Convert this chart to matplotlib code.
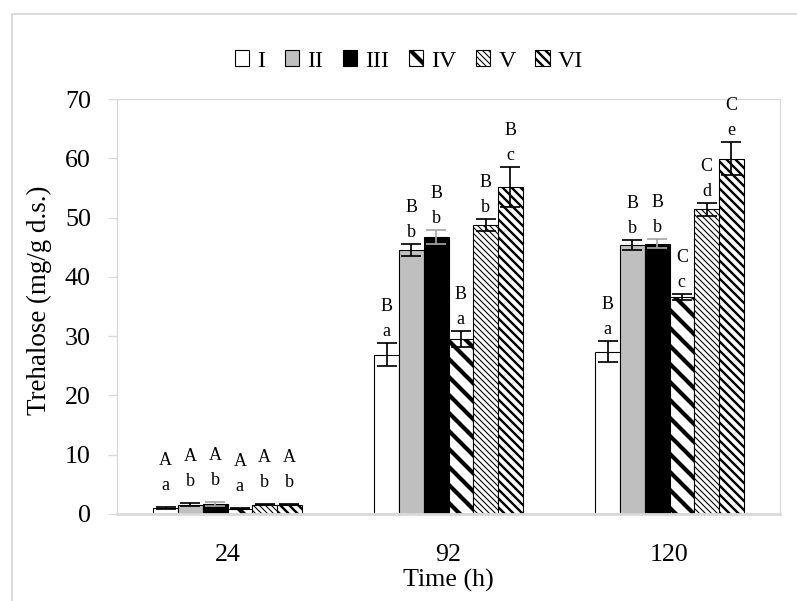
import matplotlib
matplotlib.use("Agg")
import matplotlib.pyplot as plt
import matplotlib.patches as mpatches
import numpy as np

# ---------------- data ----------------
times = ["24", "92", "120"]
series = ["I", "II", "III", "IV", "V", "VI"]
vals_I   = [1.0, 26.9, 27.4]
vals_II  = [1.6, 44.6, 45.4]
vals_III = [1.7, 46.7, 45.6]
vals_IV  = [0.9, 29.5, 36.6]
vals_V   = [1.6, 48.8, 51.4]
vals_VI  = [1.6, 55.1, 59.9]
err_I   = [0.1, 2.0, 1.8]
err_II  = [0.2, 1.0, 0.9]
err_III = [0.3, 1.2, 0.8]
err_IV  = [0.1, 1.4, 0.5]
err_V   = [0.1, 1.0, 1.1]
err_VI  = [0.1, 3.4, 2.8]
upper_I   = ["A", "B", "B"]
upper_II  = ["A", "B", "B"]
upper_III = ["A", "B", "B"]
upper_IV  = ["A", "B", "C"]
upper_V   = ["A", "B", "C"]
upper_VI  = ["A", "B", "C"]
lower_I   = ["a", "a", "a"]
lower_II  = ["b", "b", "b"]
lower_III = ["b", "b", "b"]
lower_IV  = ["a", "a", "c"]
lower_V   = ["b", "b", "d"]
lower_VI  = ["b", "c", "e"]
yticks = [0, 10, 20, 30, 40, 50, 60, 70]

values = [vals_I, vals_II, vals_III, vals_IV, vals_V, vals_VI]
errors = [err_I, err_II, err_III, err_IV, err_V, err_VI]
uppers = [upper_I, upper_II, upper_III, upper_IV, upper_V, upper_VI]
lowers = [lower_I, lower_II, lower_III, lower_IV, lower_V, lower_VI]

# ---------------- style ----------------
DPI = 54
W, H = 797, 601
def pt(px):
    return px * 72.0 / DPI

plt.rcParams["font.family"] = ["Liberation Serif", "DejaVu Serif"]
GRAY = "#d9d9d9"

styles = [
    dict(facecolor="white", hatch=None, hlw=1.0),
    dict(facecolor="#bfbfbf", hatch=None, hlw=1.0),
    dict(facecolor="black", hatch=None, hlw=1.0),
    dict(facecolor="white", hatch="\\", hlw=4.2),
    dict(facecolor="white", hatch="\\\\\\", hlw=1.1),
    dict(facecolor="white", hatch="\\\\", hlw=2.4),
]
err_colors = ["black", "black", "#a6a6a6", "black", "black", "black"]

fig = plt.figure(figsize=(W / DPI, H / DPI), dpi=DPI)
ax = fig.add_axes([117 / W, 1 - 514 / H, (780 - 117) / W, (514 - 99) / H])

x = np.arange(len(times))
bw = 0.1117
n = len(series)

def set_hlw(patch, lw_px):
    if hasattr(patch, "set_hatch_linewidth"):
        patch.set_hatch_linewidth(pt(lw_px))

for i in range(n):
    st = styles[i]
    pos = x + (i - (n - 1) / 2) * bw
    with plt.rc_context({"hatch.linewidth": pt(st["hlw"])}):
        bars = ax.bar(pos, values[i], width=bw, facecolor=st["facecolor"],
                      edgecolor="black", linewidth=pt(1.1), hatch=st["hatch"],
                      label=series[i], zorder=2)
    for b in bars:
        set_hlw(b, st["hlw"])
    ax.errorbar(pos, values[i], yerr=errors[i], fmt="none",
                ecolor=err_colors[i], elinewidth=pt(1.7), capsize=pt(10),
                capthick=pt(1.7), zorder=3)
    for j in range(len(times)):
        top = values[i][j] + errors[i][j]
        gap = 17 if j == 0 else 7
        ax.annotate(lowers[i][j], (pos[j], top), xytext=(0, pt(gap)),
                    textcoords="offset points", ha="center", va="baseline",
                    fontsize=pt(18))
        ax.annotate(uppers[i][j], (pos[j], top), xytext=(0, pt(gap + 25)),
                    textcoords="offset points", ha="center", va="baseline",
                    fontsize=pt(18))

ax.set_xlim(-0.5, len(times) - 0.5)
ax.set_ylim(0, 70)
ax.set_yticks(yticks)
ax.set_xticks(x)
ax.set_xticklabels(times)
ax.tick_params(axis="y", direction="out", length=pt(9), width=pt(1.3),
               color=GRAY, labelsize=pt(26), pad=pt(17))
ax.tick_params(axis="x", length=0, labelsize=pt(26), pad=pt(30))
for s in ["left", "top", "right"]:
    ax.spines[s].set_color(GRAY)
    ax.spines[s].set_linewidth(pt(1.3))
ax.spines["bottom"].set_color(GRAY)
ax.spines["bottom"].set_linewidth(pt(2.8))
ax.spines["bottom"].set_zorder(4)

ax.set_ylabel("Trehalose (mg/g d.s.)", fontsize=pt(27))
ax.set_xlabel("Time (h)", fontsize=pt(26), labelpad=pt(3))
ax.yaxis.set_label_coords(-0.098, 0.515)

# legend
handles, labels = ax.get_legend_handles_labels()
leg = fig.legend(handles, labels, loc="center", bbox_to_anchor=(409 / W, 1 - 61 / H),
                 ncol=6, frameon=False, fontsize=pt(24), handlelength=0.6,
                 handleheight=0.64, handletextpad=0.35, columnspacing=0.8,
                 borderpad=0, borderaxespad=0)
for p, st in zip(leg.get_patches(), styles):
    p.set_linewidth(pt(1.1))
    set_hlw(p, st["hlw"])

# figure frame (left and top visible)
fig.patches.append(mpatches.Rectangle((12 / W, -0.1), 1.2, 1.1 - 14 / H,
                                      transform=fig.transFigure, fill=False,
                                      edgecolor=GRAY, linewidth=pt(1.8)))

fig.savefig("out.png", dpi=DPI)
